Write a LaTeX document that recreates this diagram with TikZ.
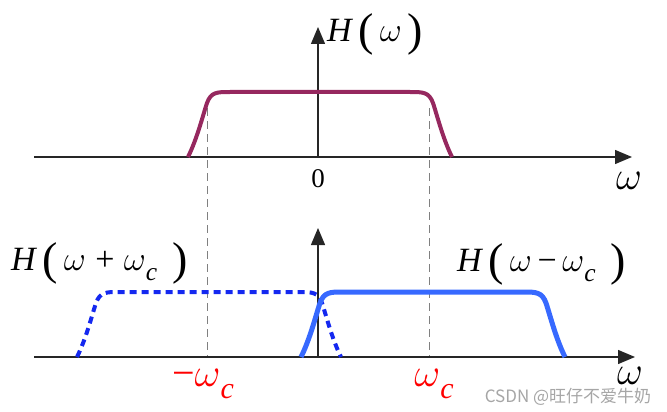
\RequirePackage{fix-cm}
\documentclass[tikz,border=0pt]{standalone}
\usepackage{fontspec}
\setmainfont{Liberation Serif}
\newfontfamily\cjk{Noto Sans CJK SC}
\usetikzlibrary{arrows.meta}
\definecolor{bandpurple}{RGB}{150,40,95}
\definecolor{bandblue}{RGB}{55,105,255}
\definecolor{bandbluedark}{RGB}{20,40,240}
\tikzset{
    axis/.style={line width=1.3pt, black!85, -{Triangle[length=17pt,width=14pt]}},
    guide/.style={gray, line width=1pt, dash pattern=on 8pt off 5pt},
    lbl/.style={font=\fontsize{34}{40}\selectfont, inner sep=0pt},
    cut/.style={lbl, font=\fontsize{40}{44}\selectfont, text=red}
}
\newcommand{\wvar}{$\omega$}
\newcommand{\wsub}{$\omega$\raisebox{-0.32em}{\fontsize{0.75em}{1em}\selectfont\textit{c}}}
\newcommand{\lpar}{\raisebox{-4pt}{\fontsize{46}{50}\selectfont(}}
\newcommand{\rpar}{\raisebox{-4pt}{\fontsize{46}{50}\selectfont)}}
\newcommand{\passband}[3] {
	\draw[#3] (#1-132,#2) .. controls (#1-123,#2-18) and (#1-117,#2-42) .. (#1-113,#2-54)
		.. controls (#1-109,#2-65) and (#1-103,#2-65) .. (#1-90,#2-65)
		-- (#1+90,#2-65)
		.. controls (#1+103,#2-65) and (#1+109,#2-65) .. (#1+113,#2-54)
		.. controls (#1+117,#2-42) and (#1+123,#2-18) .. (#1+132,#2);
}

\begin{document}
\begin{tikzpicture}[x=1pt,y=-1pt]
		\useasboundingbox (0,0) rectangle (667,412);

		% cut-off guides
		\coordinate (gl) at (207,108);
		\coordinate (glb) at (207,357);
		\coordinate (gr) at (429,108);
		\coordinate (grb) at (429,357);
		\draw[guide] (gl) -- (glb);
		\draw[guide] (gr) -- (grb);

		% top axes
		\coordinate (tl) at (34,157);
		\coordinate (tr) at (632,157);
		\coordinate (to) at (318,157);
		\coordinate (tu) at (318,27);
		\draw[axis] (tl) -- (tr);
		\draw[axis] (to) -- (tu);

		% bottom axes
		\coordinate (bl) at (34,357);
		\coordinate (br) at (635,357);
		\coordinate (bo) at (318,357);
		\coordinate (bu) at (318,228);
		\draw[axis] (bl) -- (br);
		\draw[axis] (bo) -- (bu);

		% pass bands
		\passband{320}{157}{bandpurple, line width=4pt}
		\passband{209}{357}{bandbluedark, line width=4pt, dash pattern=on 7pt off 5pt}
		\passband{433}{357}{bandblue, line width=5pt}

		% labels
		\node[lbl, anchor=west] (htop) at (327,34) {\textit{H}\,\lpar\,\wvar\,\rpar};
		\node[lbl, font=\fontsize{27}{30}\selectfont] (zero) at (318,179) {0};
		\node[lbl, font=\fontsize{40}{44}\selectfont] (wtop) at (629,181) {\wvar};
		\node[lbl, anchor=west] (hplus) at (11,263) {\textit{H}\,\lpar\,\wvar\;+\;\wsub\;\,\rpar};
		\node[lbl, anchor=west] (hminus) at (457,264) {\textit{H}\,\lpar\,\wvar\,−\,\wsub\;\,\rpar};
		\node[cut] (wcl) at (203,384) {−\wsub};
		\node[cut] (wcr) at (434,384) {\wsub};
		\node[lbl, font=\fontsize{40}{44}\selectfont] (wbot) at (630,376) {\wvar};
		\node[font=\cjk\fontsize{17}{20}\selectfont, text=gray!70, fill=white, inner sep=1pt] (mark) at (568,397) {CSDN @旺仔不爱牛奶};

\end{tikzpicture}
\end{document}
